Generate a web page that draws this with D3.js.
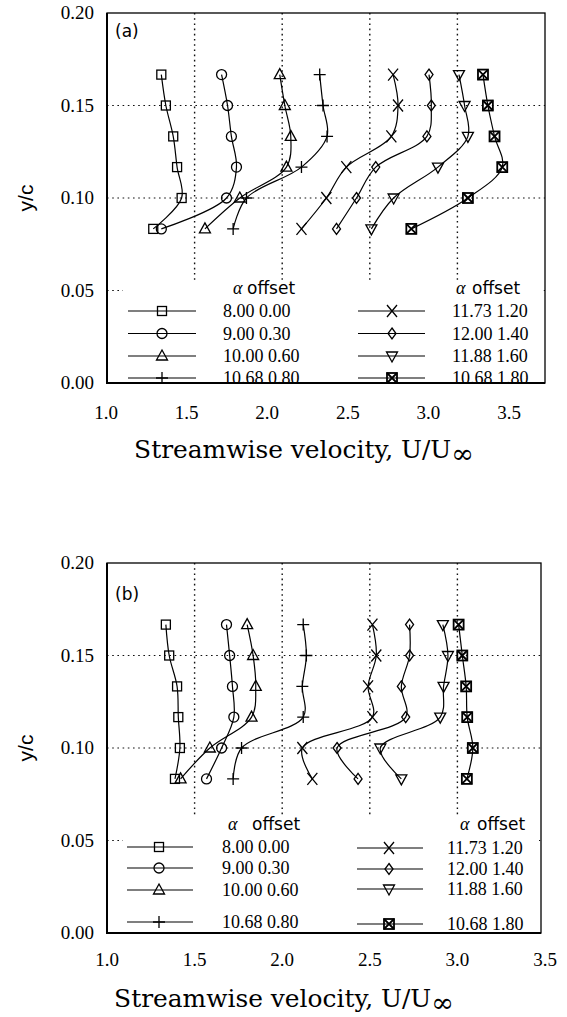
<!DOCTYPE html>
<html><head><meta charset="utf-8">
<script src="https://cdn.jsdelivr.net/npm/d3@7"></script>
<style>body{margin:0;background:#fff}svg{display:block}</style>
</head><body><svg id="c" width="567" height="1017"></svg>
<script>
// ---------------- DATA ----------------
const xTickVals = [1.0, 1.5, 2.0, 2.5, 3.0, 3.5];
const yTickVals = [0.00, 0.05, 0.10, 0.15, 0.20];
const gridXVals = [1.5, 2.0, 2.5, 3.0];
const gridYVals = [0.05, 0.10, 0.15];
const yLevels = [0.1667, 0.1500, 0.1333, 0.1167, 0.1000, 0.0833];
const symbolTypes = ["square", "circle", "triangle", "plus", "cross", "diamond", "triangleDown", "boxX"];
const alphaLabels = ["8.00", "9.00", "10.00", "10.68", "11.73", "12.00", "11.88", "10.68"];
const offsetLabels = ["0.00", "0.30", "0.60", "0.80", "1.20", "1.40", "1.60", "1.80"];

// plotted U/U∞ (offset included), one value per y level — panel (a)
const aSquare   = [1.31, 1.336, 1.378, 1.40, 1.426, 1.264];
const aCircle   = [1.654, 1.688, 1.71, 1.739, 1.682, 1.31];
const aTriangle = [1.986, 2.015, 2.049, 2.024, 1.758, 1.559];
const aPlus     = [2.214, 2.233, 2.256, 2.11, 1.796, 1.72];
const aCross    = [2.633, 2.661, 2.623, 2.366, 2.252, 2.11];
const aDiamond  = [2.838, 2.851, 2.826, 2.534, 2.424, 2.31];
const aTriDown  = [3.009, 3.041, 3.06, 2.889, 2.636, 2.509];
const aBoxX     = [3.146, 3.174, 3.212, 3.256, 3.06, 2.737];

// panel (b)
const bSquare   = [1.336, 1.355, 1.40, 1.407, 1.416, 1.388];
const bCircle   = [1.682, 1.70, 1.716, 1.724, 1.654, 1.568];
const bTriangle = [1.80, 1.834, 1.849, 1.825, 1.587, 1.42];
const bPlus     = [2.12, 2.138, 2.115, 2.12, 1.768, 1.72];
const bCross    = [2.515, 2.537, 2.49, 2.515, 2.115, 2.172];
const bDiamond  = [2.727, 2.727, 2.68, 2.705, 2.313, 2.433];
const bTriDown  = [2.917, 2.946, 2.921, 2.902, 2.56, 2.68];
const bBoxX     = [3.007, 3.028, 3.05, 3.056, 3.088, 3.054];

const panelASeries = [aSquare, aCircle, aTriangle, aPlus, aCross, aDiamond, aTriDown, aBoxX];
const panelBSeries = [bSquare, bCircle, bTriangle, bPlus, bCross, bDiamond, bTriDown, bBoxX];

// ---------------- LAYOUT ----------------
const panels = [
  { tag: "(a)", series: panelASeries, top: 13, bottom: 383, left: 107, right: 545,
    tagY: 37, tickBase: 419, labelRange: [106, 509], titleX: 304, titleY: 458,
    legHeader: -89, legRowsL: [-72, -49.5, -27, -5], legRowsR: [-72, -49.5, -27, -5],
    legL: { l0: 128, l1: 196, m: 162, t: 223, a: 233, o: 247 },
    legR: { l0: 358, l1: 425, m: 392, t: 452, a: 456, o: 472 } },
  { tag: "(b)", series: panelBSeries, top: 563, bottom: 933, left: 107, right: 541,
    tagY: 600, tickBase: 966, labelRange: null, titleX: 284, titleY: 1007,
    legHeader: -103, legRowsL: [-86, -65, -43, -11], legRowsR: [-85, -64, -44, -9],
    legL: { l0: 127, l1: 193, m: 159, t: 222, a: 228, o: 252 },
    legR: { l0: 357, l1: 423, m: 389, t: 447, a: 460, o: 477 } }
];

const svg = d3.select("#c");
const serif = "'Liberation Serif','Times New Roman',serif";
const sans = "'DejaVu Sans','Liberation Sans',sans-serif";

function marker(g, type, cx, cy) {
  const s = g.append("g").attr("transform", `translate(${cx},${cy})`)
    .attr("fill", "none").attr("stroke", "#000").attr("stroke-width", 1.3);
  switch (type) {
    case "square":
      s.append("rect").attr("x", -4.5).attr("y", -4.5).attr("width", 9).attr("height", 9); break;
    case "circle":
      s.append("circle").attr("r", 5); break;
    case "triangle":
      s.append("path").attr("d", "M0,-6L5.5,4L-5.5,4Z"); break;
    case "triangleDown":
      s.append("path").attr("d", "M0,6L5.5,-4L-5.5,-4Z"); break;
    case "plus":
      s.append("path").attr("d", "M-6,0H6M0,-6V6"); break;
    case "cross":
      s.append("path").attr("d", "M-5,-6L5,6M-5,6L5,-6"); break;
    case "diamond":
      s.append("path").attr("d", "M0,-5.5L4,0L0,5.5L-4,0Z"); break;
    case "boxX":
      s.attr("stroke-width", 1.8);
      s.append("rect").attr("x", -5).attr("y", -5).attr("width", 10).attr("height", 10);
      s.append("path").attr("d", "M-5,-5L5,5M-5,5L5,-5"); break;
  }
}

panels.forEach(p => {
  const x = d3.scaleLinear().domain([1.0, 3.5]).range([107, 545]);
  const y = d3.scaleLinear().domain([0, 0.20]).range([p.bottom, p.top]);
  const g = svg.append("g");

  // grid
  const dots = "1.6,3.6";
  g.selectAll(".gx").data(gridXVals).join("line")
    .attr("x1", d => x(d)).attr("x2", d => x(d)).attr("y1", p.top).attr("y2", p.bottom)
    .attr("stroke", "#111").attr("stroke-width", 1.4).attr("stroke-dasharray", dots);
  g.selectAll(".gy").data(gridYVals).join("line")
    .attr("x1", p.left).attr("x2", p.right).attr("y1", d => y(d)).attr("y2", d => y(d))
    .attr("stroke", "#111").attr("stroke-width", 1.2).attr("stroke-dasharray", dots);

  // legend background (hides grid)
  g.append("rect").attr("x", p.left + 16).attr("y", p.bottom + p.legHeader - 14)
    .attr("width", p.right - p.left - 18).attr("height", -p.legHeader + 13).attr("fill", "#fff");

  // curves + markers
  const line = d3.line().x(d => x(d[0])).y(d => y(d[1])).curve(d3.curveCatmullRom.alpha(0.5));
  p.series.forEach((vals, i) => {
    const pts = vals.map((v, k) => [v, yLevels[k]]);
    g.append("path").attr("d", line(pts)).attr("fill", "none").attr("stroke", "#000").attr("stroke-width", 1.2);
    pts.forEach(pt => marker(g, symbolTypes[i], x(pt[0]), y(pt[1])));
  });

  // frame
  g.append("rect").attr("x", p.left).attr("y", p.top).attr("width", p.right - p.left).attr("height", p.bottom - p.top)
    .attr("fill", "none").attr("stroke", "#000").attr("stroke-width", 1.3);
  g.append("path").attr("d", `M${p.left},${p.top}V${p.bottom}H${p.right}`)
    .attr("fill", "none").attr("stroke", "#000").attr("stroke-width", 2);

  // y ticks
  g.selectAll(".yt").data(yTickVals).join("text")
    .attr("x", 94).attr("y", d => y(d) + 6).attr("text-anchor", "end")
    .attr("font-family", serif).attr("font-size", 19).text(d => d.toFixed(2));
  // x ticks
  const xl = p.labelRange ? d3.scaleLinear().domain([1.0, 3.5]).range(p.labelRange) : x;
  g.selectAll(".xt").data(xTickVals).join("text")
    .attr("x", d => xl(d)).attr("y", p.tickBase).attr("text-anchor", "middle")
    .attr("font-family", serif).attr("font-size", 19).text(d => d.toFixed(1));

  // y title
  g.append("text").attr("transform", `translate(33,${(p.top + p.bottom) / 2}) rotate(-90)`)
    .attr("text-anchor", "middle").attr("font-family", "'Liberation Sans',Arial,sans-serif")
    .attr("font-size", 21).text("y/c");
  // x title (fit to the reference's width)
  const t = g.append("text").attr("x", p.titleX).attr("y", p.titleY).attr("text-anchor", "middle")
    .attr("font-family", "'DejaVu Serif',serif").attr("font-size", 22);
  t.append("tspan").text("Streamwise velocity, U/U");
  t.append("tspan").attr("dy", 5).attr("font-size", 24).text("∞");
  const len = t.node().getComputedTextLength();
  const k = 340 / len;
  t.attr("font-size", 22 * k);
  t.select("tspan:last-child").attr("font-size", 24 * k);

  // panel tag
  g.append("text").attr("x", 115).attr("y", p.tagY).attr("font-family", sans).attr("font-size", 17).text(p.tag);

  // legend
  [[p.legL, p.legRowsL, 0], [p.legR, p.legRowsR, 4]].forEach(([c, rows, start]) => {
    const hy = p.bottom + p.legHeader;
    g.append("text").attr("x", c.a).attr("y", hy).attr("font-family", serif).attr("font-style", "italic")
      .attr("font-size", 18).text("α");
    g.append("text").attr("x", c.o).attr("y", hy).attr("font-family", sans).attr("font-size", 17).text("offset");
    rows.forEach((dy, j) => {
      const i = start + j, ry = p.bottom + dy;
      g.append("line").attr("x1", c.l0).attr("x2", c.l1).attr("y1", ry).attr("y2", ry)
        .attr("stroke", "#000").attr("stroke-width", 1.1);
      marker(g, symbolTypes[i], c.m, ry);
      g.append("text").attr("x", c.t).attr("y", ry + 6).attr("font-family", serif).attr("font-size", 18)
        .text(alphaLabels[i] + " " + offsetLabels[i]);
    });
  });
});
</script></body></html>
